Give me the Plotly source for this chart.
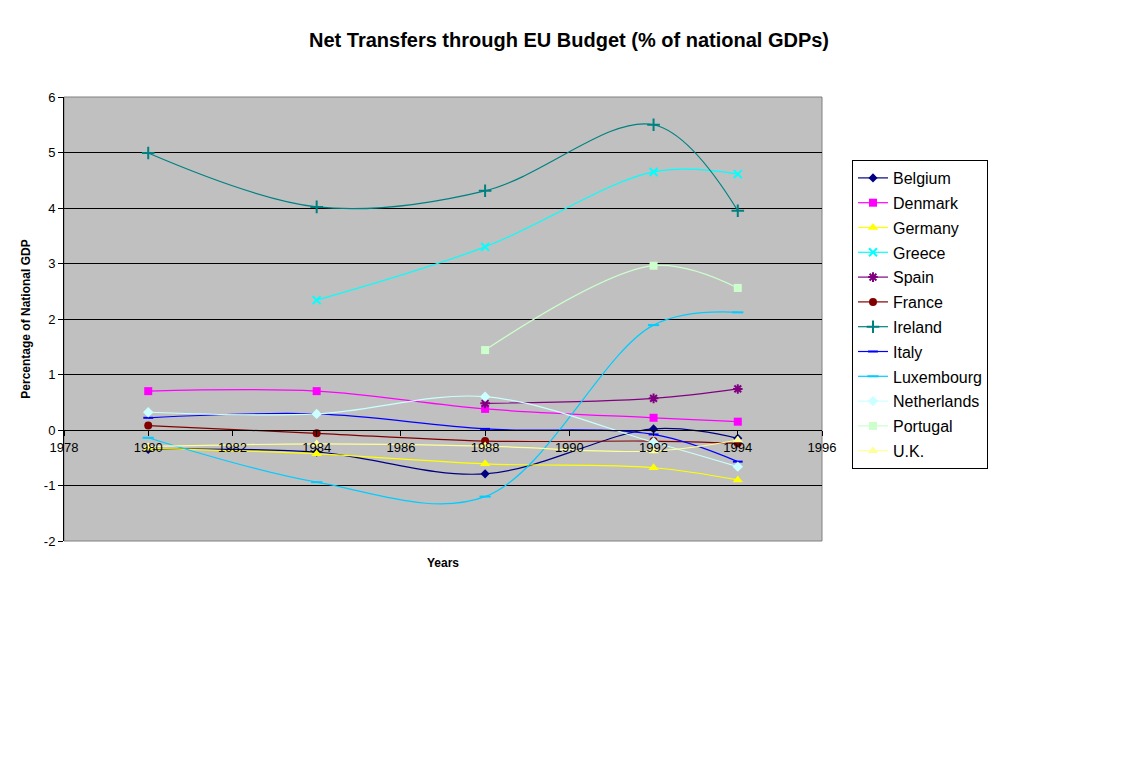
import plotly.graph_objects as go

years = [1980, 1984, 1988, 1992, 1994]

belgium = [-0.35, -0.40, -0.79, 0.02, -0.15]
denmark = [0.70, 0.70, 0.38, 0.22, 0.15]
germany = [-0.33, -0.43, -0.61, -0.68, -0.90]
greece = [None, 2.34, 3.30, 4.65, 4.61]
spain = [None, None, 0.48, 0.57, 0.74]
france = [0.08, -0.06, -0.20, -0.20, -0.24]
ireland = [4.99, 4.02, 4.31, 5.50, 3.95]
italy = [0.22, 0.29, 0.02, -0.08, -0.57]
luxembourg = [-0.14, -0.94, -1.20, 1.89, 2.12]
netherlands = [0.32, 0.29, 0.60, -0.22, -0.66]
portugal = [None, None, 1.44, 2.96, 2.56]
uk = [-0.30, -0.25, -0.29, -0.38, -0.18]

y_ticks = [-2, -1, 0, 1, 2, 3, 4, 5, 6]
y_tick_labels = ["-2", "-1", "0", "1", "2", "3", "4", "5", "6"]

series = [
    ("Belgium", belgium, "#000080", "diamond", 7),
    ("Denmark", denmark, "#FF00FF", "square", 8),
    ("Germany", germany, "#FFFF00", "triangle-up", 9),
    ("Greece", greece, "#00FFFF", "x-thin-open", 8),
    ("Spain", spain, "#800080", "asterisk-open", 8),
    ("France", france, "#800000", "circle", 8),
    ("Ireland", ireland, "#008080", "cross-thin-open", 9),
    ("Italy", italy, "#0000FF", "line-ew-open", 7),
    ("Luxembourg", luxembourg, "#00CCFF", "line-ew-open", 8),
    ("Netherlands", netherlands, "#CCFFFF", "diamond", 8),
    ("Portugal", portugal, "#CCFFCC", "square", 8),
    ("U.K.", uk, "#FFFF99", "triangle-up", 9),
]

FONT = "Arial, Liberation Sans, sans-serif"

fig = go.Figure()
for name, vals, color, sym, size in series:
    open_sym = sym.endswith("open")
    fig.add_trace(go.Scatter(
        x=years, y=vals, name=name, mode="lines+markers", legendgroup=name,
        line=dict(color=color, width=1.2, shape="spline", smoothing=1.0),
        marker=dict(symbol=sym, size=size, color=color,
                    line=dict(color=color, width=2 if open_sym else 0)),
    ))

fig.update_layout(
    width=1138, height=778,
    margin=dict(l=64, r=316, t=97, b=237),
    paper_bgcolor="white",
    plot_bgcolor="#C0C0C0",
    font=dict(family=FONT, size=13, color="black"),
    title=dict(text="<b>Net Transfers through EU Budget (% of national GDPs)</b>",
               x=0.5, xanchor="center", y=0.949, yanchor="middle",
               font=dict(size=20, family=FONT, color="black")),
    showlegend=True,
    legend=dict(x=(852 - 64) / 758, y=(541 - 160) / 444, xanchor="left", yanchor="top",
                bgcolor="white", bordercolor="black", borderwidth=1,
                font=dict(size=16, family=FONT, color="black"),
                tracegroupgap=1, itemwidth=30),
    xaxis=dict(range=[1978, 1996], dtick=2, tick0=1978,
               showgrid=False, zeroline=False,
               showline=True, linecolor="black", linewidth=1,
               ticks="outside", ticklen=5, tickcolor="black",
               anchor="free", position=0.25,
               tickfont=dict(size=13, family=FONT)),
    yaxis=dict(range=[-2, 6], tickvals=y_ticks, ticktext=y_tick_labels,
               showgrid=True, gridcolor="black", gridwidth=1,
               zeroline=False,
               showline=True, linecolor="black", linewidth=1,
               ticks="outside", ticklen=5, tickcolor="black",
               tickfont=dict(size=13, family=FONT),
               title=dict(text="<b>Percentage of National GDP</b>",
                          font=dict(size=12, family=FONT), standoff=10)),
)
fig.add_annotation(text="<b>Years</b>", xref="paper", yref="paper",
                   x=(443 - 64) / (822 - 64), y=-(563 - 541) / (541 - 97),
                   xanchor="center", yanchor="middle", showarrow=False,
                   font=dict(size=12, family=FONT, color="black"))
fig.add_shape(type="rect", xref="paper", yref="paper", x0=0, y0=0, x1=1, y1=1,
              line=dict(color="#808080", width=1), layer="below")

fig.write_html("out.html")
